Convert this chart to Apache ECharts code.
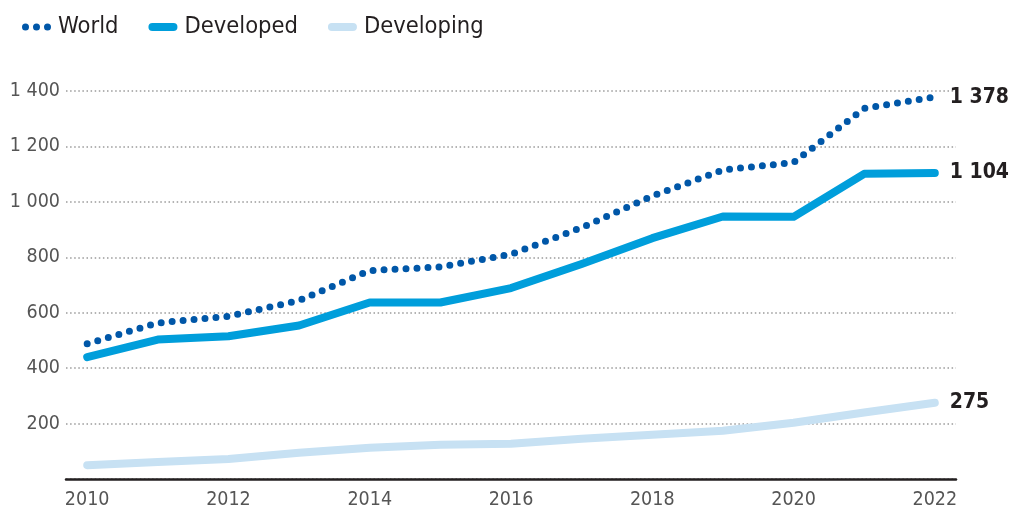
<!DOCTYPE html>
<html>
<head>
<meta charset="utf-8">
<script src="https://cdn.jsdelivr.net/npm/echarts@6/dist/echarts.min.js"></script>
<style>
html,body{margin:0;padding:0;background:#fff;}
#chart{width:1011px;height:510px;}
</style>
</head>
<body>
<div id="chart"></div>
<script>
// data
var years = [2010, 2011, 2012, 2013, 2014, 2015, 2016, 2017, 2018, 2019, 2020, 2021, 2022];
var world = [488, 563, 587, 644, 752, 765, 811, 907, 1021, 1115, 1142, 1337, 1378];
var developed = [440, 503, 515, 554, 637, 637, 689, 776, 869, 947, 946, 1101, 1104];
var developing = [50, 61, 72, 95, 113, 124, 127, 145, 160, 174, 203, 240, 275];
var xTicks = [2010, 2012, 2014, 2016, 2018, 2020, 2022];

var FONT = '"Liberation Sans Narrow", "DejaVu Sans Condensed", "Liberation Sans", sans-serif';

function pairs(vals){
    var out = [];
    for (var i = 0; i < years.length; i++) { out.push([years[i], vals[i]]); }
    return out;
}
// 1 378 style numbers
function spaced(v){
    return String(Math.round(v)).replace(/\B(?=(\d{3})+(?!\d))/g, ' ');
}

var chart = echarts.init(document.getElementById('chart'));

var endLbl = {
    show: true,
    distance: 15,
    fontFamily: FONT,
    fontWeight: 'bold',
    fontSize: 21,
    color: '#231f20',
    formatter: function (p) { return spaced(p.value[1]); }
};

var option = {
    animation: false,
    legend: {
        left: 17,
        top: 10,
        itemWidth: 29,
        itemHeight: 8,
        itemGap: 30,
        textStyle: {fontFamily: FONT, fontSize: 23.5, color: '#231f20', padding: [0, 0, 0, 2]},
        data: [
            {name: 'World', icon: 'path://M0,4a3.5,3.5 0 1,0 7,0a3.5,3.5 0 1,0 -7,0zM11,4a3.5,3.5 0 1,0 7,0a3.5,3.5 0 1,0 -7,0zM22,4a3.5,3.5 0 1,0 7,0a3.5,3.5 0 1,0 -7,0z'},
            {name: 'Developed', icon: 'path://M4,0H25A4,4 0 0,1 25,8H4A4,4 0 0,1 4,0z'},
            {name: 'Developing', icon: 'path://M4,0H25A4,4 0 0,1 25,8H4A4,4 0 0,1 4,0z'}
        ]
    },
    grid: {left: 66, right: 55, top: 91, bottom: 30},
    xAxis: {
        type: 'value',
        min: 2009.7,
        max: 2022.3,
        axisLine: {show: true, lineStyle: {color: '#231f20', width: 2.5}},
        axisTick: {show: false},
        splitLine: {show: false},
        axisLabel: {
            customValues: xTicks,
            margin: 11,
            fontFamily: FONT,
            fontSize: 19.5,
            color: '#555555',
            formatter: function (v) { return String(v); }
        }
    },
    yAxis: {
        type: 'value',
        min: 0,
        max: 1400,
        interval: 200,
        axisLine: {show: false},
        axisTick: {show: false},
        axisLabel: {
            margin: 6,
            fontFamily: FONT,
            fontSize: 19.5,
            color: '#555555',
            formatter: function (v) { return v === 0 ? '' : spaced(v); }
        },
        splitLine: {lineStyle: {color: '#9a9a9a', width: 1.5, type: [1.5, 2.6]}}
    },
    series: [
        {
            name: 'Developing',
            type: 'line',
            data: pairs(developing),
            showSymbol: false,
            color: '#c7e1f3',
            lineStyle: {width: 8, color: '#c7e1f3', cap: 'round', join: 'round'},
            endLabel: endLbl,
            z: 2
        },
        {
            name: 'Developed',
            type: 'line',
            data: pairs(developed),
            showSymbol: false,
            color: '#009edb',
            lineStyle: {width: 8, color: '#009edb', cap: 'round', join: 'round'},
            endLabel: endLbl,
            z: 3
        },
        {
            name: 'World',
            type: 'line',
            data: pairs(world),
            showSymbol: false,
            color: '#0057a8',
            lineStyle: {width: 7, color: '#0057a8', type: [0, 11], cap: 'round', join: 'round'},
            endLabel: endLbl,
            z: 4
        }
    ]
};
chart.setOption(option);
</script>
</body>
</html>
